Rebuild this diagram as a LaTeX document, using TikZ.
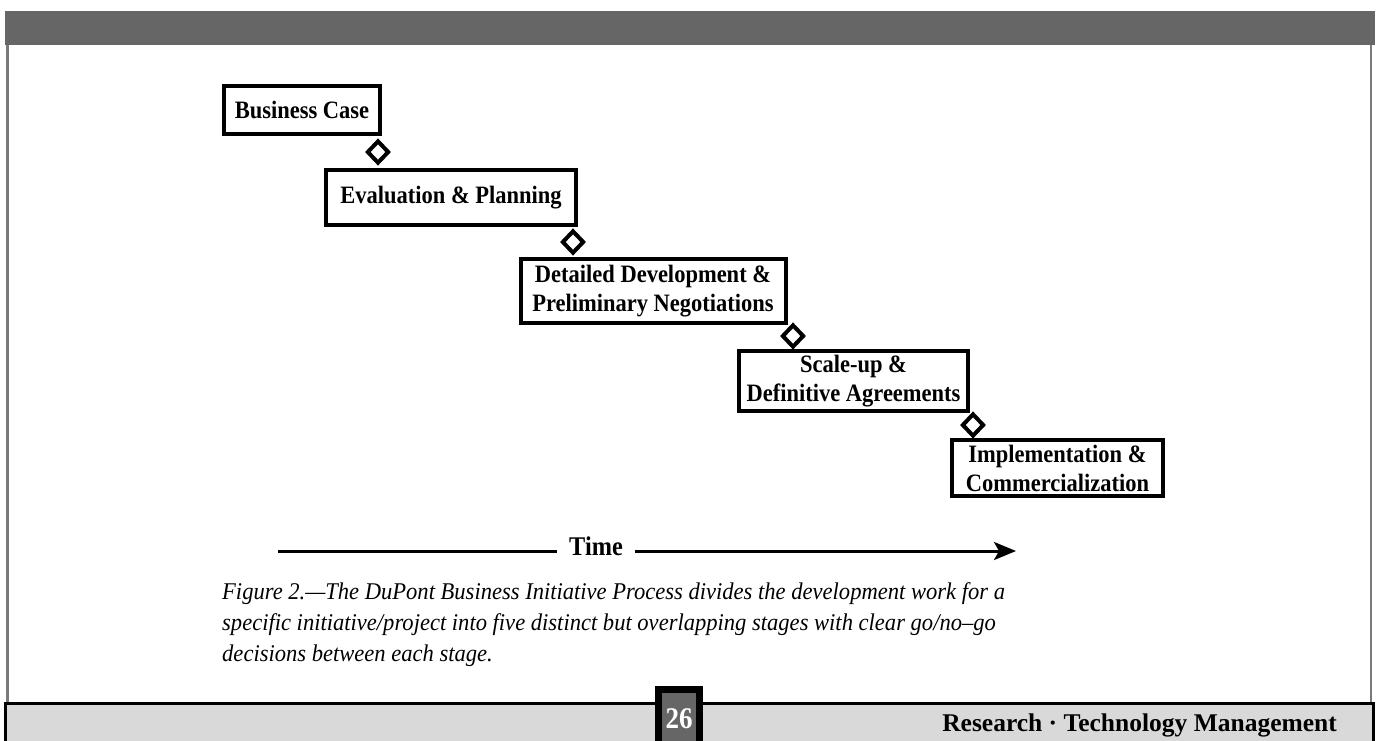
\documentclass[tikz,border=0pt]{standalone}
\usepackage{fontspec}
\setmainfont{Liberation Serif}
\newfontfamily\boxfont{Liberation Serif}[FakeStretch=0.9]
\newfontfamily\capfont{Liberation Serif}[FakeStretch=0.94]
\usetikzlibrary{shapes.geometric,arrows.meta}
\definecolor{bargray}{HTML}{666666}
\definecolor{framegray}{HTML}{7A7A7A}
\definecolor{footgray}{HTML}{D9D9D9}
\begin{document}
\begin{tikzpicture}[x=1pt,y=-1pt,
  stagebox/.style={draw,line width=4pt,align=center,inner sep=0pt,
    font=\boxfont\fontsize{25}{29}\selectfont\bfseries},
  gate/.style={draw,diamond,line width=4pt,minimum width=22pt,minimum height=23pt,inner sep=0pt,fill=white},
  arrowline/.style={line width=3pt}]
\useasboundingbox (0,0) rectangle (1380,740);
% frame
\fill[bargray] (5,11) rectangle (1375,45);
\draw[framegray,line width=3pt] (7,45) -- (7,703);
\draw[framegray,line width=2pt] (1371,45) -- (1371,703);
\fill[footgray] (5,703) rectangle (1375,742);
\draw[black,line width=3pt] (5,742) -- (5,703) -- (1373,703) -- (1373,742);
% stages
\node[stagebox,minimum width=156pt,minimum height=48pt] (s1) at (302,110) {Business Case};
\node[stagebox,minimum width=250pt,minimum height=55pt] (s2) at (451,197.5) {Evaluation \& Planning};
\node[stagebox,minimum width=265pt,minimum height=64pt] (s3) at (653,291) {Detailed Development \&\\Preliminary Negotiations};
\node[stagebox,minimum width=229pt,minimum height=60pt] (s4) at (853.5,381) {Scale-up \&\\Definitive Agreements};
\node[stagebox,minimum width=211pt,minimum height=56pt] (s5) at (1057.5,468) {Implementation \&\\Commercialization};
% gates
\node[gate] (g1) at (378,152) {};
\node[gate] (g2) at (573,242) {};
\node[gate] (g3) at (793,336) {};
\node[gate] (g4) at (973,425) {};
% time arrow
\node[font=\boxfont\fontsize{27}{27}\selectfont\bfseries,inner xsep=12pt,inner ysep=0pt] (time) at (596,546) {Time};
\coordinate (tl) at (278,551);
\coordinate (tr) at (1016,551);
\draw[arrowline] (tl) -- (tl -| time.west);
\draw[arrowline,-{Stealth[length=22pt,width=18pt,inset=5pt]}] (time.east |- tr) -- (tr);
% caption
\node[anchor=north west,align=left,inner sep=0pt,font=\capfont\fontsize{24}{31}\selectfont\itshape] (cap) at (222,582)
{Figure 2.—The DuPont Business Initiative Process divides the development work for a\\
specific initiative/project into five distinct but overlapping stages with clear go/no–go\\
decisions between each stage.};
% footer
\node[draw=black,line width=7pt,fill=bargray,minimum width=41pt,minimum height=60pt,inner sep=0pt,
  text=white,font=\boxfont\fontsize{30}{30}\selectfont\bfseries] (page) at (679,719) {\raisebox{-8pt}{26}};
\node[anchor=base east,inner sep=0pt,font=\fontsize{25.5}{26}\selectfont\bfseries] (journal) at (1337,731) {Research · Technology Management};
\end{tikzpicture}
\end{document}
